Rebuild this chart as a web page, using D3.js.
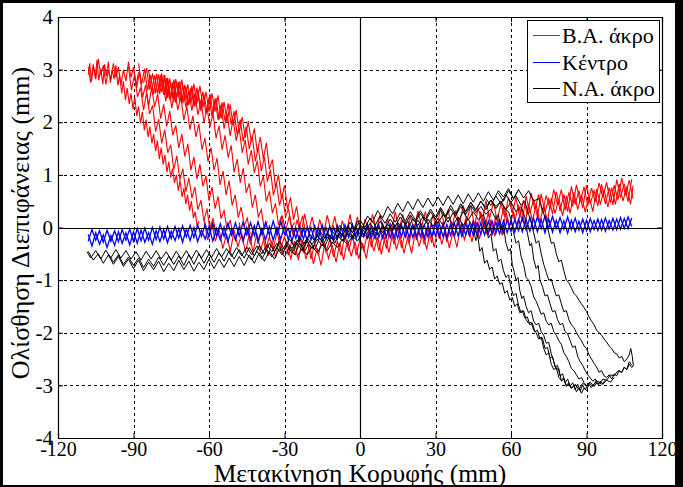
<!DOCTYPE html>
<html><head><meta charset="utf-8">
<script src="https://cdn.jsdelivr.net/npm/d3@7"></script>
<style>body{margin:0;background:#fff}svg{display:block}</style>
</head><body><svg id="chart" width="683" height="487"></svg>
<script>
// ---- tick labels / categories ----
const xTicks = [-120,-90,-60,-30,0,30,60,90,120];
const yTicks = [-4,-3,-2,-1,0,1,2,3,4];
const seriesNames = ["Β.Α. άκρο","Κέντρο","Ν.Α. άκρο"];
const seriesColors = ["#ff0000","#0000ff","#000000"];
const xTitle = "Μετακίνηση Κορυφής (mm)";
const yTitle = "Ολίσθηση Διεπιφάνειας (mm)";

// ---- Β.Α. άκρο (red) : flat [x,y,x,y,...] per traced branch ----
const redPlateau = [-108,3.05,-107,2.75,-106,3.1,-105,2.82,-104,3.2,-103,2.9,-102,3.08,-101,2.72,-100,3.0,-99,2.8,-98,3.12,-97,2.85,-96,3.05,-95,2.7,-94,3.0,-93,2.78,-92,3.15,-91,2.85,-90,3.05,-89,2.7,-88,2.95];
const redFan1 = [-108,2.9,-107.4,3.12,-106.7,2.78,-106,3.05,-105.2,2.85,-104.5,3.18,-103.8,2.8,-103,3.02,-102.2,2.72,-101.5,3.1,-100.8,2.88,-100,3.15,-99.2,2.75,-98.5,3.0,-97.7,2.82,-97,3.08,-96.2,2.7,-95.5,2.9,-94.7,2.55,-94,2.78,-93.2,2.42,-92.5,2.65,-91.7,2.35,-91,2.55,-90.2,2.25,-89.5,2.48,-88.7,2.12,-88,2.3,-87.2,1.98,-86.5,2.2,-85.7,1.85,-85,2.05,-84.2,1.72,-83.5,1.92,-82.7,1.6,-82,1.78,-81.2,1.45,-80.5,1.65,-79.7,1.3,-79,1.52,-78.2,1.2,-77.5,1.38,-76.7,1.05,-76,1.25,-75.2,0.95,-74.5,1.12,-73.7,0.85,-73,1.0,-72.2,0.7,-71.5,0.9,-70.7,0.58,-70,0.75,-69.2,0.45,-68.5,0.62,-67.7,0.32,-67,0.5,-66.2,0.18,-65.5,0.3,-64.7,0.02,-64,0.12];
const redFan2 = [-92,3.05,-90.8,2.61,-89.6,2.9,-88.4,2.48,-87.2,2.66,-86,2.23,-84.8,2.56,-83.6,2.16,-82.4,2.32,-81.2,1.82,-80,2.06,-78.8,1.6,-77.6,1.86,-76.4,1.42,-75.2,1.57,-74,1.1,-72.8,1.36,-71.6,0.91,-70.4,1.12,-69.2,0.68,-68,0.94,-66.8,0.56,-65.6,0.77,-64.4,0.34,-63.2,0.52,-62,0.12,-60.8,0.36,-59.6,-0.05,-58.4,0.18,-57.2,-0.12];
const redFan3 = [-90,3.05,-88.8,2.65,-87.6,2.95,-86.4,2.47,-85.2,2.71,-84,2.31,-82.8,2.66,-81.6,2.29,-80.4,2.54,-79.2,2.07,-78,2.34,-76.8,1.92,-75.6,2.21,-74.4,1.75,-73.2,1.94,-72,1.51,-70.8,1.78,-69.6,1.35,-68.4,1.59,-67.2,1.09,-66,1.34,-64.8,0.92,-63.6,1.2,-62.4,0.78,-61.2,0.98,-60,0.51,-58.8,0.77,-57.6,0.36,-56.4,0.59,-55.2,0.17,-54,0.32,-52.8,-0.05,-51.6,0.14,-50.4,-0.13];
const redFan4 = [-88,3.12,-86.8,2.72,-85.6,3.02,-84.4,2.61,-83.2,2.9,-82,2.53,-80.8,2.92,-79.6,2.54,-78.4,2.83,-77.2,2.4,-76,2.68,-74.8,2.27,-73.6,2.6,-72.4,2.23,-71.2,2.5,-70,2.04,-68.8,2.3,-67.6,1.86,-66.4,2.12,-65.2,1.72,-64,1.97,-62.8,1.48,-61.6,1.7,-60.4,1.25,-59.2,1.52,-58,1.09,-56.8,1.32,-55.6,0.81,-54.4,1.07,-53.2,0.62,-52,0.89,-50.8,0.42,-49.6,0.62,-48.4,0.19,-47.2,0.39,-46,0.03,-44.8,0.18,-43.6,-0.13];
const redFan5 = [-86,2.75,-84.8,3.03,-83.6,2.62,-82.4,2.93,-81.2,2.55,-80,2.91,-78.8,2.57,-77.6,2.9,-76.4,2.46,-75.2,2.76,-74,2.38,-72.8,2.77,-71.6,2.38,-70.4,2.69,-69.2,2.28,-68,2.59,-66.8,2.22,-65.6,2.55,-64.4,2.14,-63.2,2.42,-62,1.99,-60.8,2.28,-59.6,1.91,-58.4,2.17,-57.2,1.7,-56,1.93,-54.8,1.48,-53.6,1.75,-52.4,1.33,-51.2,1.56,-50,1.05,-48.8,1.3,-47.6,0.85,-46.4,1.13,-45.2,0.66,-44,0.84,-42.8,0.38,-41.6,0.62,-40.4,0.2,-39.2,0.34,-38,-0.04,-36.8,0.12];
const redFan6 = [-84,2.98,-82.8,2.58,-81.6,2.89,-80.4,2.55,-79.2,2.9,-78,2.52,-76.8,2.84,-75.6,2.43,-74.4,2.76,-73.2,2.37,-72,2.77,-70.8,2.41,-69.6,2.71,-68.4,2.31,-67.2,2.66,-66,2.3,-64.8,2.66,-63.6,2.29,-62.4,2.58,-61.2,2.16,-60,2.47,-58.8,2.11,-57.6,2.45,-56.4,2.05,-55.2,2.33,-54,1.88,-52.8,2.16,-51.6,1.74,-50.4,2.06,-49.2,1.65,-48,1.89,-46.8,1.42,-45.6,1.66,-44.4,1.2,-43.2,1.47,-42,1.04,-40.8,1.27,-39.6,0.78,-38.4,0.98,-37.2,0.49,-36,0.69,-34.8,0.27,-33.6,0.46,-32.4,0.05,-31.2,0.22,-30,-0.12];
const redFan7 = [-80,2.6,-78.8,2.93,-77.6,2.52,-76.4,2.84,-75.2,2.45,-74,2.81,-72.8,2.47,-71.6,2.78,-70.4,2.36,-69.2,2.68,-68,2.33,-66.8,2.69,-65.6,2.3,-64.4,2.62,-63.2,2.21,-62,2.53,-60.8,2.19,-59.6,2.54,-58.4,2.16,-57.2,2.46,-56,2.05,-54.8,2.38,-53.6,2.01,-52.4,2.36,-51.2,1.96,-50,2.21,-48.8,1.76,-47.6,2.05,-46.4,1.63,-45.2,1.92,-44,1.49,-42.8,1.74,-41.6,1.26,-40.4,1.52,-39.2,1.07,-38,1.34,-36.8,0.87,-35.6,1.1,-34.4,0.61,-33.2,0.85,-32,0.42,-30.8,0.64,-29.6,0.2,-28.4,0.36,-27.2,-0.02,-26,0.1];
const redFan8 = [-78,2.9,-76.8,2.5,-75.6,2.83,-74.4,2.45,-73.2,2.82,-72,2.47,-70.8,2.81,-69.6,2.41,-68.4,2.72,-67.2,2.36,-66,2.73,-64.8,2.36,-63.6,2.69,-62.4,2.28,-61.2,2.58,-60,2.2,-58.8,2.55,-57.6,2.2,-56.4,2.51,-55.2,2.07,-54,2.39,-52.8,2.0,-51.6,2.34,-50.4,1.94,-49.2,2.23,-48,1.8,-46.8,2.1,-45.6,1.7,-44.4,2.02,-43.2,1.62,-42,1.88,-40.8,1.43,-39.6,1.72,-38.4,1.3,-37.2,1.61,-36,1.11,-34.8,1.29,-33.6,0.76,-32.4,1.0,-31.2,0.54,-30,0.8,-28.8,0.35,-27.6,0.57,-26.4,0.15,-25.2,0.4,-24,0.02,-22.8,0.22,-21.6,-0.11];
const redLow1 = [-62,0.13,-60.5,-0.24,-59,0.11,-57.5,-0.26,-56,-0.03,-54.5,-0.4,-53,-0.12,-51.5,-0.46,-50,-0.05,-48.5,-0.37,-47,-0.12,-45.5,-0.48,-44,-0.12,-42.5,-0.47,-41,-0.1,-39.5,-0.44,-38,-0.18,-36.5,-0.54,-35,-0.25,-33.5,-0.58,-32,-0.18,-30.5,-0.5,-29,-0.25,-27.5,-0.61,-26,-0.26,-24.5,-0.62,-23,-0.25,-21.5,-0.6,-20,-0.33,-18.5,-0.69,-17,-0.39,-15.5,-0.72,-14,-0.3,-12.5,-0.59,-11,-0.33,-9.5,-0.66,-8,-0.29,-6.5,-0.62,-5,-0.23,-3.5,-0.55,-2,-0.27,-0.5,-0.6,1,-0.29,2.5,-0.59,4,-0.16,5.5,-0.45,7,-0.18,8.5,-0.51,10,-0.15,11.5,-0.48,13,-0.09,14.5,-0.42,16,-0.15,17.5,-0.49,19,-0.18,20.5,-0.49,22,-0.07,23.5,-0.36,25,-0.09,26.5,-0.42,28,-0.05,29.5,-0.38,31,0.01,32.5,-0.32,34,-0.05,35.5,-0.39,37,-0.07,38.5,-0.38,40,0.05,41.5,-0.23,43,0.04,44.5,-0.28,46,0.1,47.5,-0.22,49,0.18,50.5,-0.14,52,0.15,53.5,-0.17,55,0.15,56.5,-0.15,58,0.3,59.5,0.02,61,0.3,62.5,-0.02,64,0.37,65.5,0.05,67,0.45,68.5,0.13,70,0.43,71.5,0.1,73,0.42,74.5,0.12,76,0.56,77.5,0.27,79,0.55,80.5,0.22,82,0.6,83.5,0.27,85,0.67,86.5,0.34,88,0.62,89.5,0.29,91,0.6,92.5,0.3,94,0.73,95.5,0.45,97,0.72,98.5,0.39,100,0.76,101.5,0.44,103,0.83,104.5,0.5,106,0.78,107.5,0.44,108.5,0.8];
const redUp1 = [108.5,0.55,107,0.9,105.5,0.61,104,0.94,102.5,0.53,101,0.8,99.5,0.47,98,0.86,96.5,0.57,95,0.85,93.5,0.49,92,0.75,90.5,0.42,89,0.77,87.5,0.48,86,0.81,84.5,0.4,83,0.67,81.5,0.33,80,0.72,78.5,0.43,77,0.72,75.5,0.35,74,0.61,72.5,0.28,71,0.63,69.5,0.34,68,0.66,66.5,0.25,65,0.52,63.5,0.19,62,0.57,60.5,0.28,59,0.57,57.5,0.2,56,0.46,54.5,0.13,53,0.48,51.5,0.18,50,0.51,48.5,0.1,47,0.37,45.5,0.03,44,0.42,42.5,0.13,41,0.42,39.5,0.06,38,0.32,36.5,-0.01,35,0.34,33.5,0.05,32,0.38,30.5,-0.03,29,0.24,27.5,-0.09,26,0.3,24.5,0.02,23,0.31,21.5,-0.05,20,0.22,18.5,-0.11,17,0.25,15.5,-0.04,14,0.3,12.5,-0.11,11,0.17,9.5,-0.16,8,0.24,6.5,-0.05,5,0.25,3.5,-0.1,2,0.16,0.5,-0.16,-1,0.2,-2.5,-0.09,-4,0.25,-5.5,-0.15,-7,0.13,-8.5,-0.19,-10,0.21,-11.5,-0.07,-13,0.23,-14.5,-0.12,-16,0.15,-17.5,-0.17,-19,0.2,-20.5,-0.08,-22,0.26,-23.5,-0.14,-25,0.15,-26.5,-0.17,-28,0.23,-29.5,-0.06,-31,0.23,-32.5,-0.13];
const redLow2 = [-48,0.1,-46.5,-0.28,-45,-0.01,-43.5,-0.32,-42,0.05,-40.5,-0.31,-39,-0.03,-37.5,-0.45,-36,-0.17,-34.5,-0.42,-33,-0.08,-31.5,-0.4,-30,-0.17,-28.5,-0.53,-27,-0.24,-25.5,-0.53,-24,-0.14,-22.5,-0.48,-21,-0.19,-19.5,-0.6,-18,-0.3,-16.5,-0.53,-15,-0.17,-13.5,-0.47,-12,-0.22,-10.5,-0.56,-9,-0.26,-7.5,-0.53,-6,-0.12,-4.5,-0.45,-3,-0.14,-1.5,-0.53,0,-0.22,1.5,-0.44,3,-0.08,4.5,-0.36,6,-0.1,7.5,-0.44,9,-0.13,10.5,-0.4,12,0.01,13.5,-0.32,15,-0.01,16.5,-0.39,18,-0.08,19.5,-0.3,21,0.06,22.5,-0.24,24,0.02,25.5,-0.32,27,-0.02,28.5,-0.29,30,0.12,31.5,-0.21,33,0.11,34.5,-0.28,36,0.04,37.5,-0.18,39,0.19,40.5,-0.1,42,0.17,43.5,-0.17,45,0.15,46.5,-0.12,48,0.3,49.5,-0.02,51,0.29,52.5,-0.1,54,0.22,55.5,0.01,57,0.38,58.5,0.1];
const redRight2 = [60,0.47,61.5,0.11,63,0.43,64.5,0.11,66,0.6,67.5,0.27,69,0.54,70.5,0.2,72,0.64,73.5,0.29,75,0.55,76.5,0.26,78,0.68,79.5,0.31,81,0.63,82.5,0.3,84,0.78,85.5,0.44,87,0.7,88.5,0.37,90,0.8,91.5,0.45,93,0.7,94.5,0.41,96,0.82,97.5,0.45,99,0.76,100.5,0.43,102,0.91,103.5,0.57,105,0.83,106.5,0.49,108,0.92];

// ---- Κέντρο (blue) ----
const blueRun1 = [-108,-0.13,-106.5,-0.35,-105,-0.1,-103.5,-0.32,-102,-0.14,-100.5,-0.38,-99,-0.15,-97.5,-0.34,-96,-0.08,-94.5,-0.3,-93,-0.1,-91.5,-0.33,-90,-0.08,-88.5,-0.3,-87,-0.05,-85.5,-0.28,-84,-0.1,-82.5,-0.32,-81,-0.06,-79.5,-0.27,-78,-0.04,-76.5,-0.29,-75,-0.07,-73.5,-0.25,-72,-0.02,-70.5,-0.28,-69,-0.03,-67.5,-0.25,-66,0.0,-64.5,-0.27,-63,-0.05,-61.5,-0.22,-60,0.02,-58.5,-0.26,-57,-0.02,-55.5,-0.24,-54,0.01,-52.5,-0.27,-51,-0.03,-49.5,-0.24,-48,0.01,-46.5,-0.25,-45,0.0,-43.5,-0.22,-42,0.03,-40.5,-0.26,-39,-0.02,-37.5,-0.23,-36,0.02,-34.5,-0.24,-33,0.0,-31.5,-0.22,-30,0.03,-28.5,-0.23,-27,0.02,-25.5,-0.21,-24,0.04,-22.5,-0.22,-21,0.01,-19.5,-0.24,-18,0.03,-16.5,-0.2,-15,0.05,-13.5,-0.21,-12,0.02,-10.5,-0.23,-9,0.04,-7.5,-0.2,-6,0.05,-4.5,-0.19,-3,0.06,-1.5,-0.21,0,0.03,1.5,-0.18,3,0.06,4.5,-0.2,6,0.04,7.5,-0.19,9,0.07,10.5,-0.18,12,0.06,13.5,-0.2,15,0.05,16.5,-0.17,18,0.08,19.5,-0.19,21,0.05,22.5,-0.18,24,0.07,25.5,-0.2,27,0.04,28.5,-0.17,30,0.08,31.5,-0.18,33,0.06,34.5,-0.2,36,0.07,37.5,-0.16,39,0.1,40.5,-0.17,42,0.08,43.5,-0.15,45,0.1,46.5,-0.16,48,0.09,49.5,-0.14,51,0.12,52.5,-0.13,54,0.1,55.5,-0.12,57,0.13,58.5,-0.1,60,0.14,61.5,-0.09,63,0.16,64.5,-0.08,66,0.15,67.5,-0.07,69,0.17,70.5,-0.08,72,0.15,73.5,-0.1,75,0.16,76.5,-0.09,78,0.14,79.5,-0.1,81,0.13,82.5,-0.11,84,0.14,85.5,-0.08,87,0.12,88.5,-0.1,90,0.14,91.5,-0.08,93,0.13,94.5,-0.06,96,0.15,97.5,-0.07,99,0.13,100.5,-0.05,102,0.16,103.5,-0.03,105,0.17,106.5,-0.02,108,0.18];
const blueRun2 = [108,0.02,106.5,0.2,105,-0.02,103.5,0.19,102,-0.04,100.5,0.17,99,-0.03,97.5,0.18,96,-0.05,94.5,0.16,93,-0.04,91.5,0.17,90,-0.06,88.5,0.16,87,-0.05,85.5,0.18,84,-0.04,82.5,0.2,81,-0.03,79.5,0.19,78,-0.02,76.5,0.21,75,-0.01,73.5,0.22,72,-0.02,70.5,0.2,69,-0.03,67.5,0.19,66,-0.05,64.5,0.18,63,-0.06,61.5,0.15,60,-0.08,58.5,0.14,57,-0.1,55.5,0.13,54,-0.11,52.5,0.12,51,-0.12,49.5,0.1,48,-0.13,46.5,0.09,45,-0.15,43.5,0.08,42,-0.14,40.5,0.07,39,-0.16,37.5,0.08,36,-0.15,34.5,0.06,33,-0.17,31.5,0.07,30,-0.16,28.5,0.06,27,-0.18,25.5,0.05,24,-0.17,22.5,0.06,21,-0.19,19.5,0.04,18,-0.18,16.5,0.05,15,-0.2,13.5,0.04,12,-0.19,10.5,0.03,9,-0.2,7.5,0.04,6,-0.21,4.5,0.02,3,-0.2,1.5,0.03,0,-0.22,-1.5,0.01,-3,-0.21,-4.5,0.02,-6,-0.23,-7.5,0.0,-9,-0.22,-10.5,0.01,-12,-0.24,-13.5,0.0,-15,-0.23,-16.5,-0.01,-18,-0.25,-19.5,0.0,-21,-0.24,-22.5,-0.02,-24,-0.26,-25.5,-0.01,-27,-0.25,-28.5,-0.02,-30,-0.13,-31.5,0.11,-33,-0.12,-34.5,0.12,-36,-0.14,-37.5,0.1,-39,-0.13,-40.5,0.11,-42,-0.15,-43.5,0.09,-45,-0.14,-46.5,0.1,-48,-0.16,-49.5,0.09,-51,-0.15,-52.5,0.08,-54,-0.17,-55.5,0.07,-57,-0.16,-58.5,0.08,-60,-0.18,-61.5,0.06,-63,-0.17,-64.5,0.05,-66,-0.19,-67.5,0.04,-69,-0.18,-70.5,0.03,-72,-0.2,-73.5,0.02,-75,-0.21,-76.5,0.02,-78,-0.22,-79.5,0.01,-81,-0.23,-82.5,0.0,-84,-0.24,-85.5,-0.01,-87,-0.25,-88.5,-0.02,-90,-0.26,-91.5,-0.03,-93,-0.24,-94.5,-0.04,-96,-0.27,-97.5,-0.06,-99,-0.26,-100.5,-0.05,-102,-0.28,-103.5,-0.06,-105,-0.24,-106.5,-0.04,-108,-0.26];

// ---- Ν.Α. άκρο (black) ----
const blackRun1 = [-108,-0.45,-106,-0.62,-104,-0.5,-102,-0.68,-100,-0.52,-98,-0.7,-96,-0.55,-94,-0.74,-92,-0.6,-90,-0.78,-88,-0.62,-86,-0.82,-84,-0.66,-82,-0.8,-80,-0.64,-78,-0.84,-76,-0.68,-74,-0.82,-72,-0.62,-70,-0.8,-68,-0.64,-66,-0.83,-64,-0.66,-62,-0.8,-60,-0.6,-58,-0.78,-56,-0.6,-54,-0.76,-52,-0.58,-50,-0.74,-48,-0.55,-46,-0.72,-44,-0.52,-42,-0.68,-40,-0.48,-38,-0.64,-36,-0.45,-34,-0.6,-32,-0.4,-30,-0.56,-28,-0.36,-26,-0.52,-24,-0.3,-22,-0.46,-20,-0.26,-18,-0.42,-16,-0.2,-14,-0.36,-12,-0.14,-10,-0.3,-8,-0.08,-6,-0.22,-4,-0.02,-2,-0.16,0,0.02,2,-0.1,4,0.08,6,-0.05,8,0.12,10,-0.02,12,0.16,14,0.02,16,0.2,18,0.06,20,0.24,22,0.1,24,0.27,26,0.12,28,0.3,30,0.16,32,0.33,34,0.2,36,0.36,38,0.22,40,0.4,42,0.25,44,0.42,46,0.28,48,0.4,50,0.25,52,0.35,54,0.15,55,0.25,56,-0.05,57,0.05,58,-0.3,59,-0.45,59.8,-0.4,60.5,-0.7,61.3,-0.85,62,-1.0,62.8,-0.95,63.5,-1.2,64.3,-1.35,65,-1.3,66,-1.5,67,-1.62,68,-1.58,69,-1.78,70,-1.85,71,-1.82,72,-1.98,73,-2.05,74,-2.2,75,-2.18,76,-2.4,77,-2.55,78,-2.7,79,-2.68,80,-2.92,81,-2.88,82,-3.02,83,-2.98,84,-3.06,85.5,-2.98,87,-3.08,88.5,-2.96,90,-3.02];
const blackRun2 = [63,0.72,61,0.55,59,0.74,57,0.58,55,0.7,53,0.52,51,0.68,49,0.5,47,0.66,45,0.48,43,0.64,41,0.45,39,0.62,37,0.44,35,0.6,33,0.42,31,0.58,29,0.4,27,0.56,25,0.38,23,0.54,21,0.34,19,0.5,17,0.3,15,0.46,13,0.26,11,0.4,9,0.18,7,0.32,5,0.1,3,0.22,1,0.0,-1,0.12,-3,-0.1,-5,0.02,-7,-0.16,-9,-0.04,-11,-0.22,-13,-0.1,-15,-0.27,-17,-0.15,-19,-0.32,-21,-0.2,-23,-0.36,-25,-0.24,-27,-0.4,-29,-0.28,-31,-0.44,-33,-0.3,-35,-0.46,-37,-0.33,-39,-0.5,-41,-0.35,-43,-0.52,-45,-0.37,-47,-0.54,-49,-0.38,-51,-0.55,-53,-0.4,-55,-0.56,-57,-0.4,-59,-0.57,-61,-0.42,-63,-0.58,-65,-0.43,-67,-0.6,-69,-0.44,-71,-0.6,-73,-0.45,-75,-0.62,-77,-0.46,-79,-0.6,-81,-0.44,-83,-0.6,-85,-0.45,-87,-0.62,-89,-0.46,-91,-0.6,-93,-0.44,-95,-0.58,-97,-0.42,-99,-0.58,-101,-0.43,-103,-0.6,-105,-0.44,-107,-0.58,-108.5,-0.46];
const blackRun3 = [-100,-0.5,-98,-0.66,-96,-0.52,-94,-0.7,-92,-0.56,-90,-0.72,-88,-0.58,-86,-0.76,-84,-0.6,-82,-0.74,-80,-0.56,-78,-0.72,-76,-0.55,-74,-0.7,-72,-0.54,-70,-0.72,-68,-0.52,-66,-0.7,-64,-0.5,-62,-0.68,-60,-0.5,-58,-0.66,-56,-0.48,-54,-0.64,-52,-0.44,-50,-0.6,-48,-0.42,-46,-0.58,-44,-0.38,-42,-0.54,-40,-0.34,-38,-0.5,-36,-0.3,-34,-0.46,-32,-0.26,-30,-0.42,-28,-0.22,-26,-0.36,-24,-0.18,-22,-0.32,-20,-0.12,-18,-0.26,-16,-0.06,-14,-0.2,-12,0.0,-10,-0.14,-8,0.04,-6,-0.08,-4,0.1,-2,-0.04,0,0.14,2,0.0,4,0.18,6,0.04,8,0.22,10,0.08,12,0.26,14,0.1,16,0.28,18,0.12,20,0.3,22,0.14,24,0.32,26,0.16,28,0.35,30,0.2,32,0.38,34,0.22,36,0.42,38,0.26,40,0.45,42,0.3,44,0.48,46,0.32,48,0.5,50,0.34,52,0.52,54,0.36,56,0.5,58,0.34,60,0.48,62,0.3,64,0.4,65.5,0.2,66.5,-0.1,67.5,-0.35,68.2,-0.3,69,-0.6,70,-0.78,70.8,-0.72,71.5,-1.0,72.5,-1.12,73.5,-1.3,74.5,-1.28,75.5,-1.45,76.5,-1.6,77.5,-1.58,78.5,-1.75,79.5,-1.85,80.5,-1.82,81.5,-1.98,82.5,-2.02,83.5,-2.15,84.5,-2.28,85.5,-2.25,86.5,-2.45,87.5,-2.55,88.5,-2.62,89.5,-2.72,90.5,-2.8,91.5,-2.86,92.5,-2.92,93.5,-2.88,94.5,-2.98,95.5,-2.92,96.5,-2.98,98,-2.9,99.5,-2.94,101,-2.85];
const blackRun4 = [-45,-0.5,-43,-0.62,-41,-0.45,-39,-0.6,-37,-0.42,-35,-0.56,-33,-0.38,-31,-0.52,-29,-0.34,-27,-0.48,-25,-0.3,-23,-0.44,-21,-0.26,-19,-0.4,-17,-0.22,-15,-0.35,-13,-0.18,-11,-0.3,-9,-0.14,-7,-0.26,-5,-0.1,-3,-0.22,-1,-0.06,1,-0.18,3,-0.02,5,-0.14,7,0.02,9,-0.1,11,0.06,13,-0.06,15,0.1,17,-0.04,19,0.12,21,-0.02,23,0.14,25,0.0,27,0.16,29,0.02,31,0.18,33,0.04,35,0.2,37,0.05,39,0.2,41,0.04,43,0.16,45,0.0,46,-0.25,46.8,-0.15,47.6,-0.45,48.5,-0.38,49.5,-0.68,50.5,-0.62,51.5,-0.8,52.5,-0.75,53.5,-0.98,54.5,-0.92,55.5,-1.08,56.5,-1.05,57.5,-1.25,58.5,-1.2,59.5,-1.38,60.5,-1.33,61.5,-1.5,62.5,-1.45,63.5,-1.62,64.5,-1.58,65.5,-1.72,66.5,-1.7,67.5,-1.85,68.5,-1.82,69.5,-1.98,70.5,-1.95,71.5,-2.12,72.5,-2.1,73.5,-2.3,74.5,-2.28,75.5,-2.48,76.5,-2.45,77.5,-2.65,78.5,-2.62,79.5,-2.82,80.5,-2.78,81.5,-2.95,82.5,-2.88,83.5,-3.02,84.5,-2.95,85.5,-3.08,86.5,-2.98,87.5,-3.1,88.5,-3.0,89.5,-3.08,91,-2.95,92.5,-3.02,94,-2.9];
const blackRun5 = [-25,-0.55,-23,-0.4,-21,-0.52,-19,-0.36,-17,-0.48,-15,-0.32,-13,-0.44,-11,-0.28,-9,-0.38,-7,-0.22,-5,-0.32,-3,-0.16,-1,-0.26,1,-0.1,3,-0.2,5,-0.04,7,-0.14,9,0.02,11,-0.08,13,0.08,15,-0.04,17,0.12,19,0.0,21,0.16,23,0.04,25,0.2,27,0.06,29,0.22,31,0.08,33,0.25,35,0.1,37,0.28,39,0.12,41,0.3,43,0.14,45,0.3,47,0.15,49,0.25,50,0.1,51,-0.2,52,-0.12,53,-0.45,54,-0.4,55,-0.65,56,-0.6,57,-0.82,58,-0.95,59,-0.9,60,-1.15,61,-1.3,62,-1.25,63,-1.48,64,-1.62,65,-1.58,66,-1.75,67,-1.82,68,-1.8,69,-1.95,70,-2.0,71,-2.12,72,-2.08,73,-2.3,74,-2.42,75,-2.38,76,-2.6,77,-2.7,78,-2.66,79,-2.85,80,-2.9,81,-2.86,82,-3.0,83,-2.95,84,-3.05,85,-3.0,86,-3.12,87,-3.05,88,-3.15,89,-3.05,90,-3.1,91,-2.98,92,-3.05];
const blackDrop4 = [40,0.45,42,0.3,44,0.48,46,0.34,48,0.5,50,0.38,52,0.52,54,0.4,56,0.5,57.5,0.35,59,0.3,60,0.15,61,-0.1,62,-0.3,63,-0.25,64,-0.55,65,-0.7,66,-0.95,67,-1.0,68,-1.12,69,-1.32,70,-1.4,71,-1.52,72,-1.65,73,-1.62,74,-1.78,75,-1.85,76,-1.82,77,-1.98,78,-2.05,79,-2.15,80,-2.22,81,-2.38,82,-2.45,83,-2.55,84,-2.68,85,-2.72,86,-2.8,87,-2.88,88,-2.85,89,-2.95,90,-3.0,91.5,-2.94,93,-3.02,94.5,-2.92,96,-2.98,97.5,-2.9];
const blackDrop6 = [50,0.55,52,0.42,54,0.6,56,0.45,58,0.62,60,0.48,62,0.6,64,0.42,65.5,0.5,67,0.25,68,0.1,69,-0.1,70,-0.3,71,-0.25,72,-0.5,73,-0.7,74,-0.85,75,-1.0,76,-0.98,77,-1.15,78,-1.3,79,-1.28,80,-1.45,81,-1.6,82,-1.58,83,-1.75,84,-1.85,85,-1.9,86,-2.0,87,-2.08,88,-2.15,89,-2.25,90,-2.3,91,-2.42,92,-2.5,93,-2.58,94,-2.65,95,-2.75,96,-2.72,97,-2.82,98,-2.85,99,-2.8,100,-2.88,101,-2.78,102,-2.82,103,-2.72,104,-2.76,105,-2.65,106,-2.7,107,-2.55,108,-2.62];
const blackDrop7 = [55,0.65,57,0.5,59,0.7,61,0.55,63,0.72,65,0.56,67,0.7,69,0.5,71,0.55,72.5,0.35,74,0.1,75,-0.1,76,-0.3,77,-0.28,78,-0.5,79,-0.65,80,-0.62,81,-0.82,82,-1.0,83,-1.05,84,-1.15,85,-1.25,86,-1.3,87,-1.38,88,-1.45,89,-1.52,90,-1.6,91,-1.7,92,-1.78,93,-1.85,94,-1.95,95,-2.0,96,-2.05,97,-2.12,98,-2.18,99,-2.25,100,-2.3,101,-2.38,102,-2.4,103,-2.48,104,-2.45,105,-2.55,106,-2.5,107,-2.42,107.6,-2.3,108.2,-2.45,108.6,-2.62,108,-2.66,107,-2.6,106,-2.7,105,-2.66,104,-2.75,102.5,-2.72,101,-2.82,99.5,-2.8,98,-2.9,96.5,-2.88,95,-2.98,93.5,-2.95,92,-3.02];

const redPaths = [redPlateau, redFan1, redFan2, redFan3, redFan4, redFan5, redFan6, redFan7, redFan8, redLow1, redUp1, redLow2, redRight2];
const bluePaths = [blueRun1, blueRun2];
const blackPaths = [blackRun1, blackRun2, blackRun3, blackRun4, blackRun5, blackDrop4, blackDrop6, blackDrop7];

// ---- drawing ----
const W = 683, H = 487;
const M = {left: 58, right: 662, top: 17, bottom: 438};
const FONT = '"Liberation Serif","Times New Roman",serif';
const svg = d3.select("#chart").attr("font-family", FONT);
svg.append("rect").attr("x",0).attr("y",0).attr("width",W).attr("height",H).attr("fill","#fff");

const x = d3.scaleLinear().domain([-120,120]).range([M.left, M.right]);
const y = d3.scaleLinear().domain([-4,4]).range([M.bottom, M.top]);

// grid
const grid = svg.append("g").attr("stroke","#000").attr("stroke-width",1).attr("stroke-dasharray","3,3").attr("shape-rendering","crispEdges");
xTicks.filter(t => t !== 0 && t !== -120 && t !== 120).forEach(t => {
  grid.append("line").attr("x1",Math.round(x(t))+0.5).attr("x2",Math.round(x(t))+0.5).attr("y1",M.top).attr("y2",M.bottom);
});
yTicks.filter(t => t !== 0 && t !== -4 && t !== 4).forEach(t => {
  grid.append("line").attr("y1",Math.round(y(t))+0.5).attr("y2",Math.round(y(t))+0.5).attr("x1",M.left).attr("x2",M.right);
});

// data lines
const pairs = a => { const out = []; for (let i = 0; i < a.length; i += 2) out.push([a[i], a[i+1]]); return out; };
const line = d3.line().x(d => x(d[0])).y(d => y(d[1]));
const plotArea = svg.append("g");
[[redPaths,0,1.1],[bluePaths,1,1.3],[blackPaths,2,1.0]].forEach(([paths, k, sw]) => {
  plotArea.append("g").selectAll("path").data(paths.map(pairs)).join("path")
    .attr("d", line).attr("fill","none").attr("stroke", seriesColors[k]).attr("stroke-width", sw).attr("stroke-linejoin","miter");
});

// zero lines
svg.append("line").attr("x1",M.left).attr("x2",M.right).attr("y1",Math.round(y(0))+0.5).attr("y2",Math.round(y(0))+0.5).attr("stroke","#000").attr("stroke-width",1.2);
svg.append("line").attr("y1",M.top).attr("y2",M.bottom).attr("x1",Math.round(x(0))+0.5).attr("x2",Math.round(x(0))+0.5).attr("stroke","#000").attr("stroke-width",1.2);

// axes
const fmt = d => String(d);
const xAxis = svg.append("g").attr("transform",`translate(0,${M.bottom})`)
  .call(d3.axisBottom(x).tickValues(xTicks).tickFormat(fmt).tickSize(-5).tickPadding(3.3));
const yAxis = svg.append("g").attr("transform",`translate(${M.left},0)`)
  .call(d3.axisLeft(y).tickValues(yTicks).tickFormat(fmt).tickSize(-5).tickPadding(5));
svg.append("g").attr("transform",`translate(0,${M.top})`).call(d3.axisTop(x).tickValues(xTicks).tickFormat("").tickSize(-5));
svg.append("g").attr("transform",`translate(${M.right},0)`).call(d3.axisRight(y).tickValues(yTicks).tickFormat("").tickSize(-5));
svg.selectAll(".domain").attr("stroke","#000").attr("stroke-width",1.2);
svg.selectAll(".tick line").attr("stroke","#000");
svg.selectAll("g").attr("font-family", FONT);
xAxis.selectAll("text").attr("font-size",20).attr("fill","#000");
yAxis.selectAll("text").attr("font-size",21).attr("fill","#000");

// titles
svg.append("text").attr("x",(M.left+M.right)/2).attr("y",481.5).attr("text-anchor","middle").attr("font-size",25.5).attr("fill","#000").text(xTitle);
svg.append("text").attr("transform",`translate(29,223) rotate(-90)`).attr("text-anchor","middle").attr("font-size",26).attr("fill","#000").text(yTitle);

// legend
const lg = svg.append("g").attr("font-family", FONT);
lg.append("rect").attr("x",527.5).attr("y",20.5).attr("width",132).attr("height",82).attr("fill","#fff").attr("stroke","#000").attr("stroke-width",1);
const legY = [35, 62, 88];
seriesNames.forEach((n,i) => {
  lg.append("line").attr("x1",533).attr("x2",560).attr("y1",legY[i]+0.5).attr("y2",legY[i]+0.5).attr("stroke",seriesColors[i]).attr("stroke-width",1);
  lg.append("text").attr("x",562).attr("y",legY[i]).attr("dy","0.35em").attr("font-size",22).attr("fill","#000").text(n);
});

// outer frame (thicker on the right side)
const frame = svg.append("g").attr("fill","#000");
frame.append("rect").attr("x",0).attr("y",0).attr("width",W).attr("height",3);
frame.append("rect").attr("x",0).attr("y",H-2).attr("width",W).attr("height",2);
frame.append("rect").attr("x",0).attr("y",0).attr("width",3).attr("height",H);
frame.append("rect").attr("x",W-8).attr("y",0).attr("width",8).attr("height",H);
</script>
</body></html>
